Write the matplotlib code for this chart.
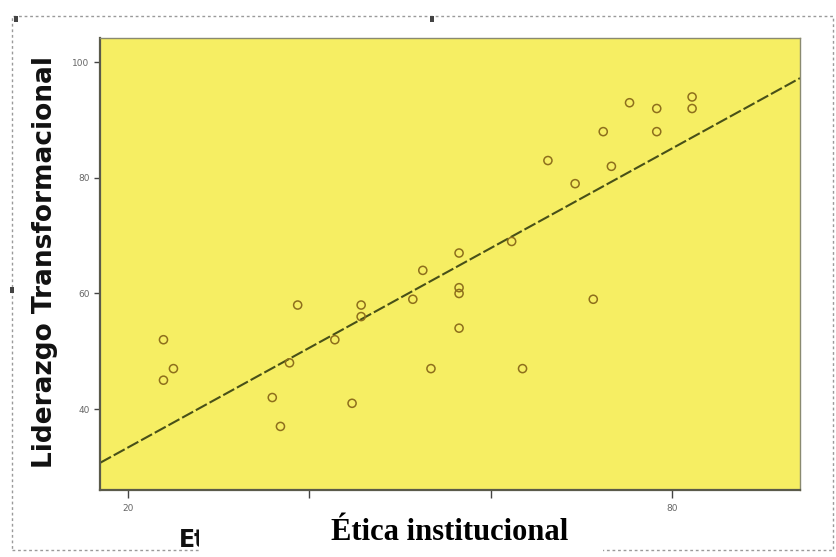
"""
Scatter of Ética institucional vs Liderazgo Transformacional with a linear fit line
(SPSS-like look: yellow plot area, open circles, dashed fit line).
"""

import matplotlib

matplotlib.use("Agg")
import matplotlib.pyplot as plt
import numpy as np
from matplotlib.patches import Rectangle

# data
etica = [23.9, 23.9, 25.0, 35.9, 36.8, 37.8, 38.7, 42.8, 44.7, 45.7,
         45.7, 51.4, 52.5, 53.4, 56.5, 56.5, 56.5, 56.5, 62.3, 63.5,
         66.3, 69.3, 71.3, 72.4, 73.3, 75.3, 78.3, 78.3, 82.2, 82.2]
liderazgo = [52, 45, 47, 42, 37, 48, 58, 52, 41, 58,
             56, 59, 64, 47, 67, 61, 60, 54, 69, 47,
             83, 79, 59, 88, 82, 93, 92, 88, 94, 92]

X_TICKS = [20, 40, 60, 80]
Y_TICKS = [40, 60, 80, 100]
X_LIM = (16.9, 94.1)
Y_LIM = (26.0, 104.2)

W, H = 837, 557
DPI = 100

YELLOW = "#F6EE63"
MARKER_EDGE = "#8E6F1C"
LINE_COLOR = "#485018"


def px(x, y):
    """pixel coords (top-left origin) -> figure fraction"""
    return x / W, 1 - y / H


def main() -> None:
    fig = plt.figure(figsize=(W / DPI, H / DPI), dpi=DPI)
    fig.patch.set_facecolor("white")

    ax = fig.add_axes([100 / W, 1 - 490 / H, 700 / W, 452 / H])
    ax.set_facecolor(YELLOW)

    ax.scatter(etica, liderazgo, s=34, facecolors="none", edgecolors=MARKER_EDGE,
               linewidths=1.1, zorder=3)

    slope, icpt = np.polyfit(etica, liderazgo, 1)
    xs = np.array(X_LIM)
    ax.plot(xs, slope * xs + icpt, color=LINE_COLOR, linestyle=(0, (6, 1.5)),
            linewidth=1.5, zorder=2)

    ax.set_xlim(*X_LIM)
    ax.set_ylim(*Y_LIM)
    ax.set_xticks(X_TICKS)
    ax.set_yticks(Y_TICKS)
    ax.set_xticklabels([str(v) for v in X_TICKS])
    ax.set_yticklabels([str(v) for v in Y_TICKS])
    ax.tick_params(axis="both", labelsize=6.5, colors="#444444", labelcolor="#666666",
                   length=4, width=1.0)
    ax.tick_params(axis="x", length=6, pad=4)

    for side in ("left", "bottom"):
        ax.spines[side].set_color("#5a5a4a")
        ax.spines[side].set_linewidth(1.6)
    for side in ("top", "right"):
        ax.spines[side].set_color("#8a8a70")
        ax.spines[side].set_linewidth(1.0)

    # y label (bold sans, rotated)
    fig.text(*px(45, 262), "Liderazgo Transformacional", rotation=90,
             ha="center", va="center", fontsize=19, fontweight="bold",
             family="DejaVu Sans", color="#111111")

    # visible start of the original sans x label
    fig.text(*px(179, 540), "Et", ha="left", va="center",
             fontsize=17, fontweight="bold", family="DejaVu Sans", color="#111111")

    # dotted frame round the chart
    x0, y0 = px(12, 550)
    x1, y1 = px(833, 16)
    fig.add_artist(Rectangle((x0, y0), x1 - x0, y1 - y0, transform=fig.transFigure,
                             fill=False, edgecolor="#9a9a9a", linewidth=1.0,
                             linestyle=(0, (2, 2)), zorder=1))

    # selection handles
    for hx, hy in [(16, 19), (432, 19), (12, 290)]:
        cx, cy = px(hx - 2, hy + 3)
        fig.add_artist(Rectangle((cx, cy), 4 / W, 6 / H, transform=fig.transFigure,
                                 facecolor="#444444", edgecolor="none", zorder=2))

    # white box with replacement label
    bx, by = px(199, H)
    bx1, by1 = px(603, 500)
    fig.add_artist(Rectangle((bx, by), bx1 - bx, by1 - by, transform=fig.transFigure,
                             facecolor="white", edgecolor="none", zorder=5))
    fig.text(*px(450, 532), "Ética institucional", ha="center", va="center",
             fontsize=22, fontweight="bold", family="Liberation Serif",
             color="black", zorder=6)

    fig.savefig("out.png", dpi=DPI)
    plt.close(fig)


if __name__ == "__main__":
    main()
